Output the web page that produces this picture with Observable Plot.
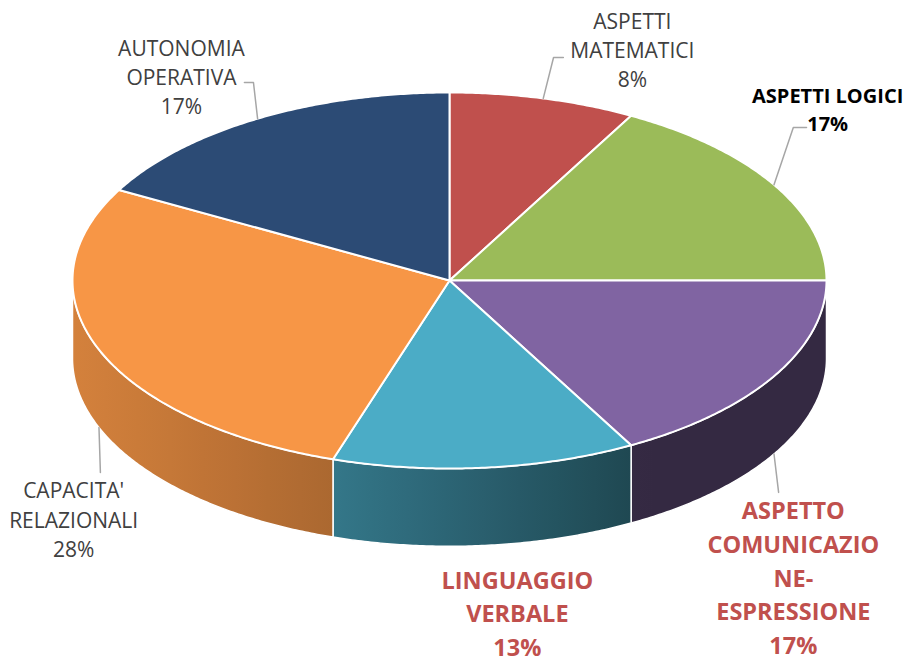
<!DOCTYPE html>
<html><head><meta charset="utf-8">
<script src="https://cdn.jsdelivr.net/npm/d3@7"></script>
<script src="https://cdn.jsdelivr.net/npm/@observablehq/plot@0.6"></script>
<style>html,body{margin:0;padding:0;background:#fff;}</style>
</head><body><div id="chart"></div>
<script>
// ---- data ----
const categories = ["ASPETTI MATEMATICI", "ASPETTI LOGICI", "ASPETTO COMUNICAZIONE-ESPRESSIONE", "LINGUAGGIO VERBALE", "CAPACITA' RELAZIONALI", "AUTONOMIA OPERATIVA"];
const values = [8, 17, 17, 13, 28, 17];
const labelLines = [["ASPETTI", "MATEMATICI"], ["ASPETTI LOGICI"], ["ASPETTO", "COMUNICAZIO", "NE-", "ESPRESSIONE"], ["LINGUAGGIO", "VERBALE"], ["CAPACITA'", "RELAZIONALI"], ["AUTONOMIA", "OPERATIVA"]];
const colors = ["#C0504D", "#9BBB59", "#8064A2", "#4BACC6", "#F79646", "#2C4B75"];

// ---- layout (in the unit-ellipse coordinates of the x/y scales) ----
const depth = 78 / 188.5;
const labelPos = [[0.485, 1.233], [1.003, 0.918], [0.912, -1.570], [0.180, -1.762], [-0.997, -1.265], [-0.711, 1.090]];
const leaderEnds = [[[0.276, 1.186], [0.302, 1.186]], [[0.912, 0.814], [0.947, 0.814]], [[0.873, -1.127]], null, [[-0.926, -1.021]], [[-0.520, 1.053], [-0.544, 1.053]]];
const labelStyle = [
  {fill: "#404040", fontWeight: "normal", fontSize: 21, lineHeight: 1.4},
  {fill: "#000000", fontWeight: "bold", fontSize: 20, lineHeight: 1.4},
  {fill: "#C0504D", fontWeight: "bold", fontSize: 23.5, lineHeight: 1.44},
  {fill: "#C0504D", fontWeight: "bold", fontSize: 23.5, lineHeight: 1.42},
  {fill: "#404040", fontWeight: "normal", fontSize: 21, lineHeight: 1.4},
  {fill: "#404040", fontWeight: "normal", fontSize: 21, lineHeight: 1.4}
];

const total = d3.sum(values);
const rad = d => d * Math.PI / 180;
function arc(a0, a1, dy = 0) {
  const n = Math.max(2, Math.ceil(Math.abs(a1 - a0) / 0.5));
  return d3.range(n + 1).map(k => {
    const a = a0 + (a1 - a0) * k / n;
    return {x: Math.sin(rad(a)), y: Math.cos(rad(a)) - dy};
  });
}
let cum = 0;
const slices = values.map((v, i) => {
  const a0 = cum / total * 360; cum += v; const a1 = cum / total * 360;
  return {i, a0, a1, mid: (a0 + a1) / 2, pct: Math.round(v / total * 100)};
});

const marks = [];
// side walls (front half only: angles 90..270)
slices.forEach(s => {
  const lo = Math.max(s.a0, 90), hi = Math.min(s.a1, 270);
  if (hi <= lo) return;
  const pts = [...arc(lo, hi, 0), ...arc(hi, lo, depth)];
  marks.push(Plot.line(pts, {x: "x", y: "y", curve: "linear-closed", fill: `url(#side${s.i})`, stroke: "white", strokeWidth: 1.5, strokeLinejoin: "round"}));
});
// top faces
slices.forEach(s => {
  const pts = [{x: 0, y: 0}, ...arc(s.a0, s.a1, 0)];
  marks.push(Plot.line(pts, {x: "x", y: "y", curve: "linear-closed", fill: colors[s.i], stroke: "white", strokeWidth: 2, strokeLinejoin: "round"}));
});
// leader lines
slices.forEach(s => {
  const ends = leaderEnds[s.i];
  if (!ends) return;
  const front = s.mid > 90 && s.mid < 270;
  const start = {x: Math.sin(rad(s.mid)), y: Math.cos(rad(s.mid)) - (front ? depth : 0)};
  const pts = [start, ...ends.map(([x, y]) => ({x, y}))];
  marks.push(Plot.line(pts, {x: "x", y: "y", stroke: "#A6A6A6", strokeWidth: 1.5}));
});
// labels
slices.forEach(s => {
  const st = labelStyle[s.i];
  const text = [...labelLines[s.i], s.pct + "%"].join("\n");
  marks.push(Plot.text([{x: labelPos[s.i][0], y: labelPos[s.i][1], t: text}], {
    x: "x", y: "y", text: "t", textAnchor: "middle", lineAnchor: "middle",
    fill: st.fill, fontWeight: st.fontWeight, fontSize: st.fontSize, lineHeight: st.lineHeight,
    fontFamily: "'Open Sans', sans-serif"
  }));
});

const chart = Plot.plot({
  width: 905, height: 661, margin: 0,
  style: {fontFamily: "'Open Sans', sans-serif", background: "white", overflow: "visible"},
  x: {domain: [-1, 1], range: [72, 826], axis: null},
  y: {domain: [-1, 1], range: [468, 92], axis: null},
  marks
});

// gradients for the side walls, placed with the chart's own x scale
const xs = chart.scale("x");
const shade = d3.scaleLinear().domain([-1, -0.3, 0.5, 1]).range([0.86, 0.69, 0.41, 0.41]);
const svg = d3.select(chart);
const defs = svg.insert("defs", ":first-child");
slices.forEach(s => {
  const lo = Math.max(s.a0, 90), hi = Math.min(s.a1, 270);
  if (hi <= lo) return;
  const xsVals = arc(lo, hi, 0).map(p => p.x);
  const u0 = d3.min(xsVals), u1 = d3.max(xsVals);
  const g = defs.append("linearGradient").attr("id", `side${s.i}`).attr("gradientUnits", "userSpaceOnUse")
    .attr("x1", xs.apply(u0)).attr("x2", xs.apply(u1)).attr("y1", 0).attr("y2", 0);
  const base = d3.rgb(colors[s.i]);
  d3.range(9).forEach(k => {
    const t = k / 8, u = u0 + (u1 - u0) * t, f = shade(u);
    g.append("stop").attr("offset", t).attr("stop-color", d3.rgb(base.r * f, base.g * f, base.b * f).formatHex());
  });
});
document.getElementById("chart").appendChild(chart);
</script>
</body></html>
